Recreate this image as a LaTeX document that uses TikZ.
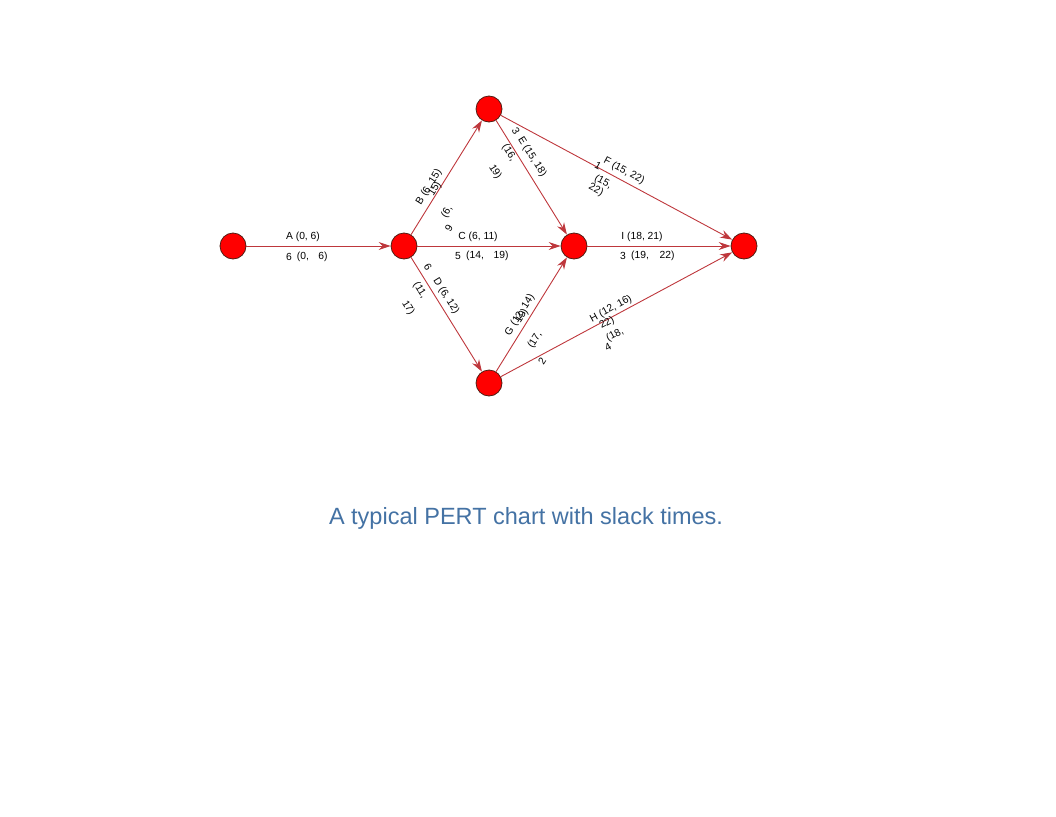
\documentclass[tikz,border=0pt]{standalone}
\usepackage{fontspec}
\setmainfont{Liberation Sans}
\usetikzlibrary{arrows.meta}
\definecolor{edgered}{RGB}{190,55,60}
\definecolor{rimbrown}{RGB}{80,30,20}
\definecolor{capblue}{RGB}{68,114,164}
\begin{document}
\begin{tikzpicture}[x=1pt, y=-1pt,
  event/.style={draw=rimbrown, line width=0.8pt, circle, fill=red, minimum size=26pt, inner sep=0pt},
  act/.style={draw=edgered, line width=0.9pt, -{Stealth[length=12pt,width=8pt]}},
  lbl/.style={font=\fontsize{10.3}{12}\selectfont, inner sep=0pt}]
\useasboundingbox (0,0) rectangle (1056,816);

\node[event] (1) at (233,246) {};
\node[event] (2) at (404,246) {};
\node[event] (3) at (489,109) {};
\node[event] (4) at (574,246) {};
\node[event] (5) at (489,383) {};
\node[event] (6) at (744,246) {};

\path[act] (1) -- (2);
\path[act] (2) -- (3);
\path[act] (2) -- (4);
\path[act] (2) -- (5);
\path[act] (3) -- (4);
\path[act] (3) -- (6);
\path[act] (4) -- (6);
\path[act] (5) -- (4);
\path[act] (5) -- (6);

% A
\node[lbl] (a1) at (303,237) {A (0, 6)};
\node[lbl] (a2) at (289,257) {6};
\node[lbl] (a3) at (303,257) {(0,};
\node[lbl] (a4) at (323,257) {6)};
% C
\node[lbl] (c1) at (478,237) {C (6, 11)};
\node[lbl] (c2) at (458,256) {5};
\node[lbl] (c3) at (475,256) {(14,};
\node[lbl] (c4) at (501,256) {19)};
% I
\node[lbl] (i1) at (642,237) {I (18, 21)};
\node[lbl] (i2) at (623,256) {3};
\node[lbl] (i3) at (640,256) {(19,};
\node[lbl] (i4) at (667,256) {22)};
% B
\node[lbl, rotate=58] (b1) at (429,187) {B (6, 15)};
\node[lbl, rotate=58] (b2) at (435,189) {15)};
\node[lbl, rotate=58] (b3) at (447,212) {(6,};
\node[lbl, rotate=58] (b4) at (449,228) {9};
% E
\node[lbl, rotate=-58] (e1) at (516,131) {3};
\node[lbl, rotate=-58] (e2) at (532,157) {E (15, 18)};
\node[lbl, rotate=-58] (e3) at (509,153) {(16,};
\node[lbl, rotate=-58] (e4) at (495,172) {19)};
% F
\node[lbl, rotate=-28] (f1) at (598,166) {1};
\node[lbl, rotate=-28] (f2) at (624,171) {F (15, 22)};
\node[lbl, rotate=-28] (f3) at (603,182) {(15,};
\node[lbl, rotate=-28] (f4) at (596,190) {22)};
% D
\node[lbl, rotate=-58] (d1) at (428,267) {6};
\node[lbl, rotate=-58] (d2) at (446,296) {D (6, 12)};
\node[lbl, rotate=-58] (d3) at (420,290) {(11,};
\node[lbl, rotate=-58] (d4) at (408,308) {17)};
% G
\node[lbl, rotate=58] (g1) at (520,315) {G (12, 14)};
\node[lbl, rotate=58] (g2) at (522,316) {19)};
\node[lbl, rotate=58] (g3) at (535,340) {(17,};
\node[lbl, rotate=58] (g4) at (542,361) {2};
% H
\node[lbl, rotate=28] (h1) at (611,309) {H (12, 16)};
\node[lbl, rotate=28] (h2) at (607,323) {22)};
\node[lbl, rotate=28] (h3) at (615,335) {(18,};
\node[lbl, rotate=28] (h4) at (608,347) {4};

\node[text=capblue, font=\fontsize{23.5}{28}\selectfont] (cap) at (526,518) {A typical PERT chart with slack times.};
\end{tikzpicture}
\end{document}
